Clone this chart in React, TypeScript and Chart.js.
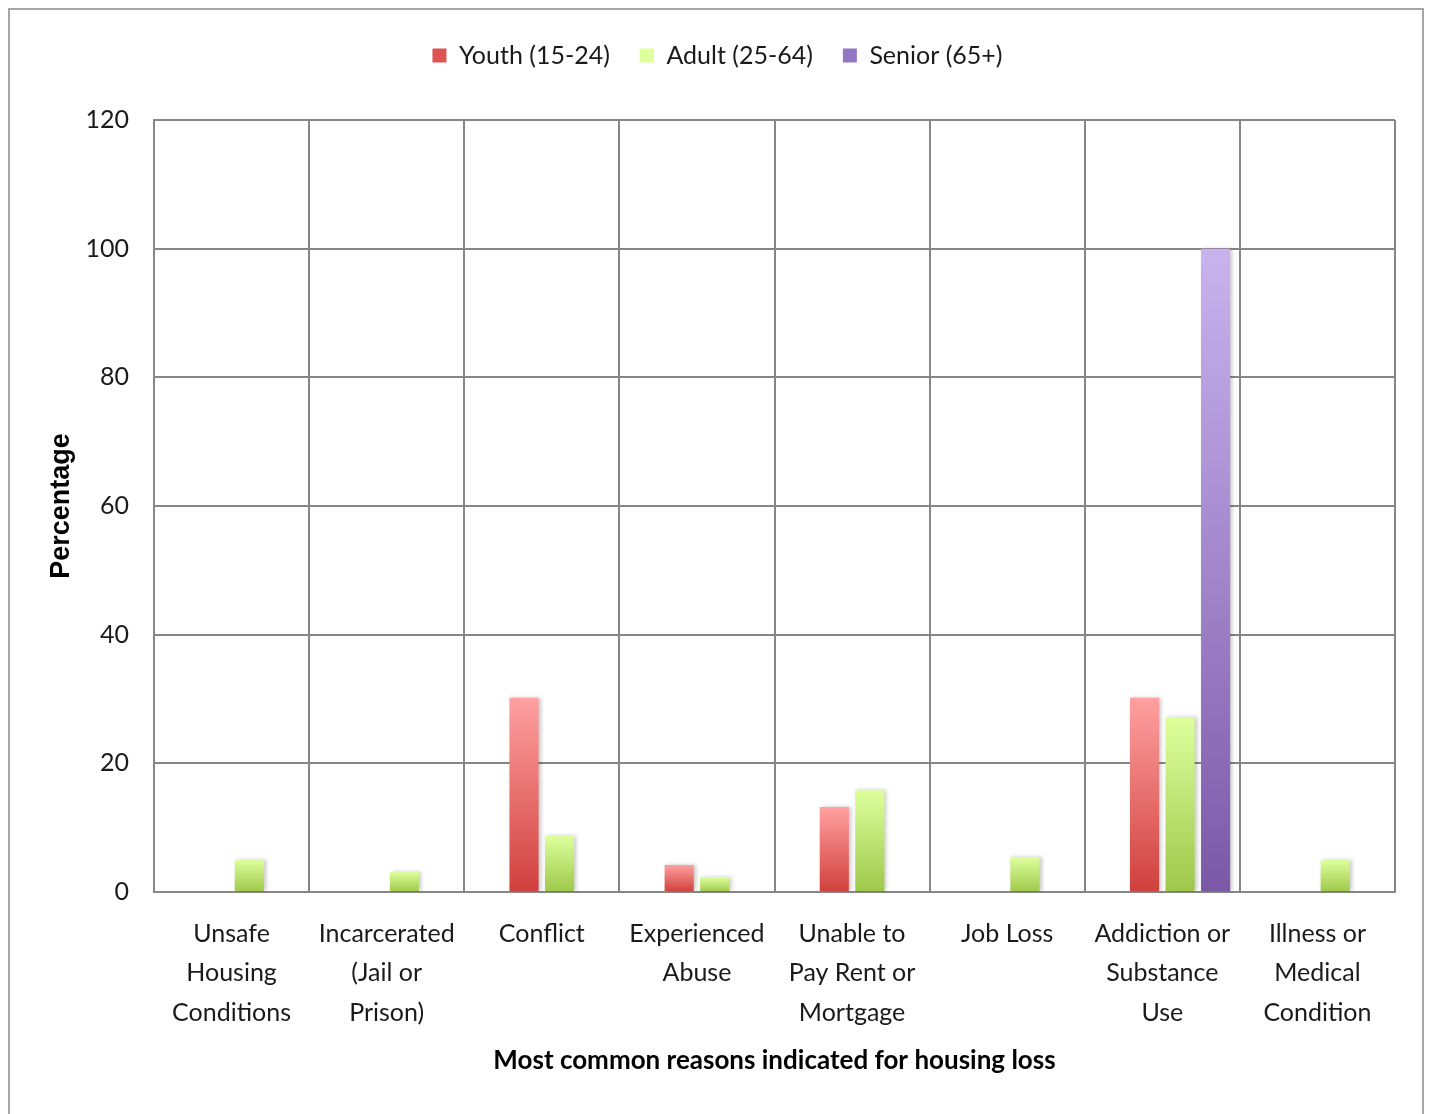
import React, { useEffect, useRef } from "react";
import { Chart, registerables } from "chart.js";

Chart.register(...registerables);

const categories: string[][] = [
  ["Unsafe", "Housing", "Conditions"],
  ["Incarcerated", "(Jail or", "Prison)"],
  ["Conflict"],
  ["Experienced", "Abuse"],
  ["Unable to", "Pay Rent or", "Mortgage"],
  ["Job Loss"],
  ["Addiction or", "Substance", "Use"],
  ["Illness or", "Medical", "Condition"],
];

const youthValues: (number | null)[] = [null, null, 30.2, 4.2, 13.2, null, 30.2, null];
const adultValues: (number | null)[] = [5.0, 3.1, 8.7, 2.3, 15.8, 5.4, 27.2, 5.0];
const seniorValues: (number | null)[] = [null, null, null, null, null, null, 100, null];
const unusedValues: (number | null)[] = [null, null, null, null, null, null, null, null];

const seriesLabels = ["", "Youth (15-24)", "Adult (25-64)", "Senior (65+)"];
const yTicks = [0, 20, 40, 60, 80, 100, 120];

const FONT = "Lato";
const GRID = "#868686";

function gradientFill(top: string, bottom: string, mid: string) {
  return (ctx: any) => {
    const chart = ctx.chart;
    if (ctx.type !== "data" || !chart.chartArea || ctx.raw == null) return mid;
    const y = chart.scales.y;
    const yTop = y.getPixelForValue(ctx.raw);
    const yBot = y.getPixelForValue(0);
    if (!isFinite(yTop) || !isFinite(yBot) || yTop === yBot) return mid;
    const g = chart.ctx.createLinearGradient(0, yTop, 0, yBot);
    g.addColorStop(0, top);
    g.addColorStop(1, bottom);
    return g;
  };
}

export default function App() {
  const ref = useRef<HTMLCanvasElement | null>(null);

  useEffect(() => {
    document.documentElement.style.overflow = "hidden";
    document.body.style.overflow = "hidden";
    if (!ref.current) return;

    const shadowPlugin = {
      id: "barShadow",
      beforeDatasetsDraw(chart: any) {
        const c = chart.ctx;
        c.save();
        c.shadowColor = "rgba(0,0,0,0.22)";
        c.shadowBlur = 4;
        c.shadowOffsetX = 2;
        c.shadowOffsetY = 0;
      },
      afterDatasetsDraw(chart: any) {
        chart.ctx.restore();
      },
    };

    const legendSpace = {
      id: "legendSpace",
      beforeInit(chart: any) {
        const legend = chart.legend;
        if (!legend) return;
        const fit = legend.fit;
        legend.fit = function () {
          fit.call(this);
          this.height += 42;
        };
      },
    };

    const chart = new Chart(ref.current, {
      type: "bar",
      data: {
        labels: categories,
        datasets: [
          {
            label: seriesLabels[0],
            data: unusedValues,
            backgroundColor: "rgba(0,0,0,0)",
          },
          {
            label: seriesLabels[1],
            data: youthValues,
            backgroundColor: gradientFill("#ffa0a0", "#d0403c", "#dc5552"),
          },
          {
            label: seriesLabels[2],
            data: adultValues,
            backgroundColor: gradientFill("#ddff9c", "#9ec84a", "#a8d255"),
          },
          {
            label: seriesLabels[3],
            data: seniorValues,
            backgroundColor: gradientFill("#c9b3ee", "#7c58a8", "#9177c4"),
          },
        ],
      },
      options: {
        animation: false,
        responsive: false,
        maintainAspectRatio: false,
        layout: { padding: { top: 3, left: 30, right: 27, bottom: 40 } },
        datasets: {
          bar: { categoryPercentage: 0.916, barPercentage: 0.82, borderWidth: 0 },
        },
        plugins: {
          tooltip: { enabled: false },
          legend: {
            position: "top",
            labels: {
              filter: (item: any) => item.text !== "",
              font: { family: FONT, size: 25 },
              color: "#1a1a1a",
              boxWidth: 14,
              boxHeight: 14,
              padding: 30,
            },
          },
        },
        scales: {
          x: {
            grid: { color: GRID, lineWidth: 2, drawTicks: false, offset: true },
            border: { color: GRID, width: 2 },
            ticks: {
              autoSkip: false,
              maxRotation: 0,
              minRotation: 0,
              padding: 22,
              color: "#1a1a1a",
              font: { family: FONT, size: 25, lineHeight: 1.58 },
            },
            title: {
              display: true,
              text: "Most common reasons indicated for housing loss",
              color: "#000",
              font: { family: FONT, size: 26, weight: "bold" },
              padding: { top: 4, bottom: 4 },
            },
            afterFit: (scale: any) => {
              scale.height = 188;
            },
          },
          y: {
            min: 0,
            max: 120,
            afterBuildTicks: (scale: any) => {
              scale.ticks = yTicks.map((v) => ({ value: v }));
            },
            grid: { color: GRID, lineWidth: 2, drawTicks: false },
            border: { color: GRID, width: 2 },
            ticks: {
              padding: 25,
              color: "#1a1a1a",
              font: { family: FONT, size: 25 },
            },
            title: {
              display: true,
              text: "Percentage",
              color: "#000",
              font: { family: "Liberation Sans", size: 27, weight: "bold" },
              padding: { top: 5, bottom: 0 },
            },
            afterFit: (scale: any) => {
              scale.width = 114;
            },
          },
        },
      },
      plugins: [shadowPlugin, legendSpace],
    } as any);

    return () => chart.destroy();
  }, []);

  return (
    <div
      style={{
        width: 1412,
        height: 1110,
        border: "2px solid #a6a6a6",
        background: "#fff",
      }}
    >
      <canvas ref={ref} width={1412} height={1110} style={{ display: "block" }} />
    </div>
  );
}
